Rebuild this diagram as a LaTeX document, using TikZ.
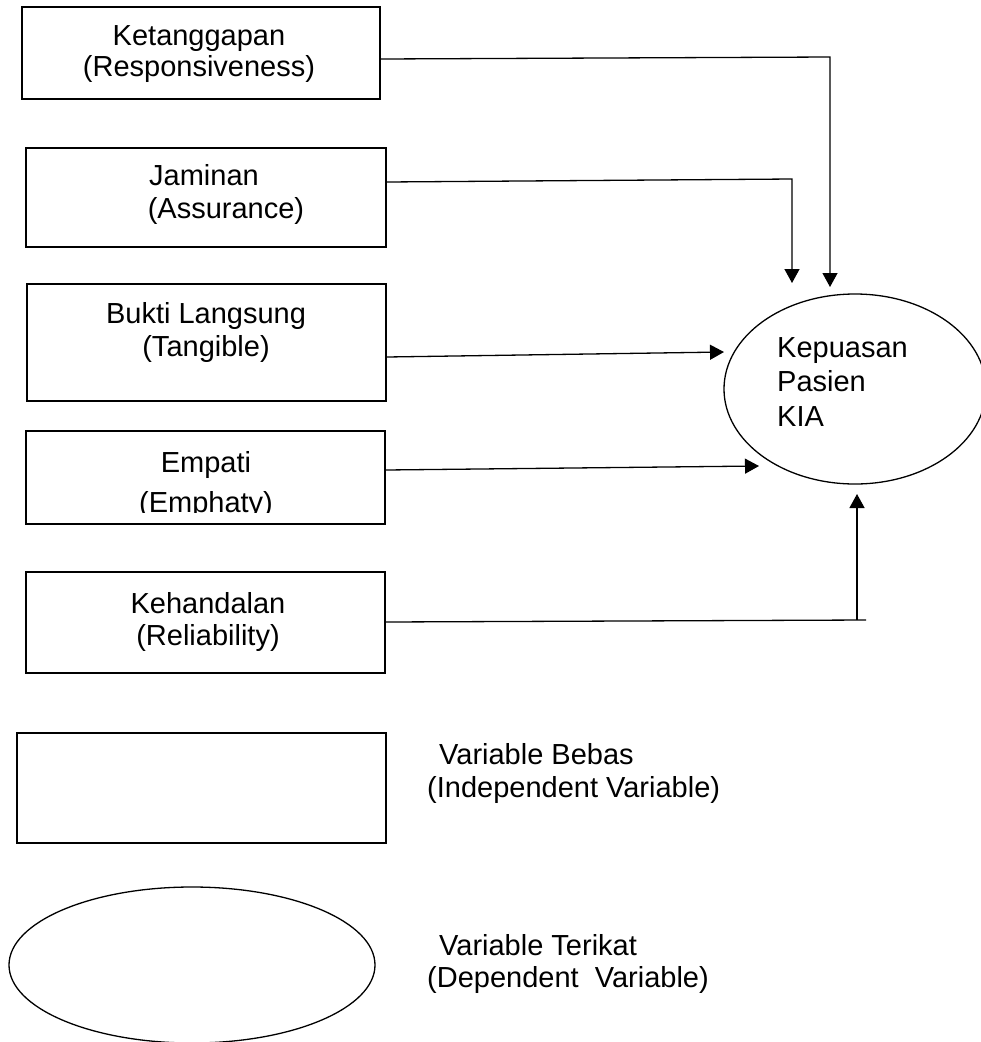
\documentclass[tikz,border=0pt]{standalone}
\usepackage{fontspec}
\setmainfont{Liberation Sans}
\usetikzlibrary{arrows.meta,shapes.geometric}
\begin{document}
\begin{tikzpicture}[x=1pt,y=-1pt,
  varbox/.style={draw,line width=1.5pt,inner sep=0pt,rectangle},
  varell/.style={draw,line width=1.3pt,inner sep=0pt,ellipse},
  txt/.style={inner sep=0pt,anchor=base,font=\fontsize{29}{32}\selectfont},
  ltxt/.style={inner sep=0pt,anchor=base west,font=\fontsize{29}{32}\selectfont},
  conn/.style={line width=1.3pt,-{Triangle[length=14pt,width=15pt]}},
  plain/.style={line width=1.3pt}]
\useasboundingbox (0,0) rectangle (981,1042);
% boxes
\node[varbox,minimum width=358pt,minimum height=92pt] (k) at (201,53) {};
\node[varbox,minimum width=360pt,minimum height=99pt] (j) at (206,197.5) {};
\node[varbox,minimum width=359pt,minimum height=117pt] (b) at (206.5,342.5) {};
\node[varbox,minimum width=359pt,minimum height=93pt] (e) at (205.5,477.5) {};
\node[varbox,minimum width=359pt,minimum height=101pt] (h) at (205.5,622.5) {};
\node[varbox,minimum width=369pt,minimum height=110pt] (leg) at (201.5,788) {};
% ellipses
\node[varell,minimum width=262pt,minimum height=190pt] (kp) at (855,389) {};
\node[varell,minimum width=366pt,minimum height=156pt] (lege) at (192,965) {};
% texts
\node[txt] (k1) at (199,45) {Ketanggapan};
\node[txt] (k2) at (199,76) {(Responsiveness)};
\node[txt] (j1) at (204,185) {Jaminan};
\node[txt] (j2) at (226,218) {(Assurance)};
\node[txt] (b1) at (206,323) {Bukti Langsung};
\node[txt] (b2) at (206,356) {(Tangible)};
\node[txt] (e1) at (206,472) {Empati};
\begin{scope}
\clip (26,440) rectangle (385,512);
\node[txt] (e2) at (206,512) {(Emphaty)};
\end{scope}
\node[txt] (h1) at (208,613) {Kehandalan};
\node[txt] (h2) at (208,645) {(Reliability)};
\node[ltxt] (kp1) at (777,357) {Kepuasan};
\node[ltxt] (kp2) at (777,391) {Pasien};
\node[ltxt] (kp3) at (777,426) {KIA};
\node[ltxt] (l1) at (439,764) {Variable Bebas};
\node[ltxt] (l2) at (427,797) {(Independent Variable)};
\node[ltxt] (l3) at (439,955) {Variable Terikat};
\node[ltxt] (l4) at (427,987) {(Dependent\ \ Variable)};
% connector points
\coordinate (c1) at (830,57);
\coordinate (t1) at (830,287);
\coordinate (c2) at (792,179);
\coordinate (t2) at (792,283);
\coordinate (t3) at (724,352);
\coordinate (t4) at (759,466);
\coordinate (c5) at (866,620);
\coordinate (s5) at (857,620);
\coordinate (t5) at (857,494);
% connectors
\draw[conn] ([yshift=-6pt]k.east) -- (c1) -- (t1);
\draw[conn] ([yshift=15.5pt]j.east) -- (c2) -- (t2);
\draw[conn] ([yshift=-14.5pt]b.east) -- (t3);
\draw[conn] ([yshift=7.5pt]e.east) -- (t4);
\draw[plain] ([yshift=0.5pt]h.east) -- (c5);
\draw[conn] (s5) -- (t5);
\end{tikzpicture}
\end{document}
